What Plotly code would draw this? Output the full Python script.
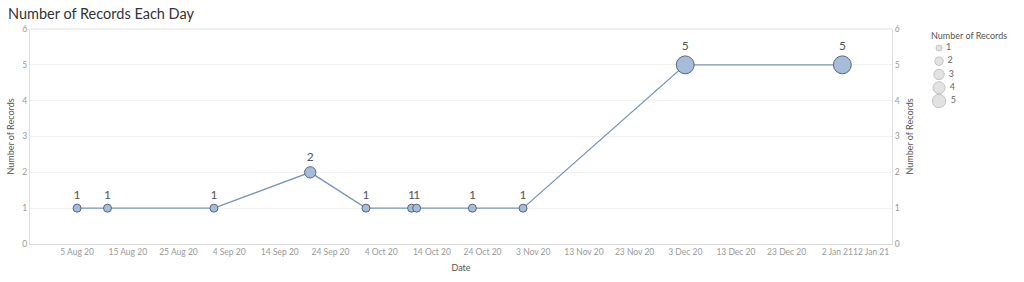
import plotly.graph_objects as go
import math

# ---- data ----
dates = ["2020-08-05", "2020-08-11", "2020-09-01", "2020-09-20", "2020-10-01",
         "2020-10-10", "2020-10-11", "2020-10-22", "2020-11-01", "2020-12-03", "2021-01-03"]
records = [1, 1, 1, 2, 1, 1, 1, 1, 1, 5, 5]

tick_dates = ["2020-08-05", "2020-08-15", "2020-08-25", "2020-09-04", "2020-09-14",
              "2020-09-24", "2020-10-04", "2020-10-14", "2020-10-24", "2020-11-03",
              "2020-11-13", "2020-11-23", "2020-12-03", "2020-12-13", "2020-12-23",
              "2021-01-02", "2021-01-12"]
tick_labels = ["5 Aug 20", "15 Aug 20", "25 Aug 20", "4 Sep 20", "14 Sep 20",
               "24 Sep 20", "4 Oct 20", "14 Oct 20", "24 Oct 20", "3 Nov 20",
               "13 Nov 20", "23 Nov 20", "3 Dec 20", "13 Dec 20", "23 Dec 20",
               "2 Jan 21", "12 Jan 21"]
y_ticks = [0, 1, 2, 3, 4, 5, 6]
legend_values = [1, 2, 3, 4, 5]

FONT = "Lato"
FILL = "#a7bcd8"
EDGE = "#56687e"
LINE = "#7895b8"

W, H = 1024, 282
ML, MR, MT, MB = 30, 4, 29, 38
PW = W - ML - MR
PH = H - MT - MB
main_right = 892
def xfrac(px):
    return (px - ML) / PW
def yfrac(px):
    return (H - MB - px) / PH

fig = go.Figure()

fig.add_trace(go.Scatter(
    x=dates, y=records, mode="lines+markers+text",
    line=dict(color=LINE, width=1.3),
    marker=dict(size=[8 * math.sqrt(v) for v in records], color=FILL,
                line=dict(color=EDGE, width=1), opacity=1),
    text=[str(v) for v in records], textposition="top center",
    textfont=dict(family=FONT, size=12, color="#555555"),
    cliponaxis=False, showlegend=False, hoverinfo="x+y",
))
# invisible trace to activate right axis
fig.add_trace(go.Scatter(
    x=dates, y=records, yaxis="y2", mode="markers",
    marker=dict(opacity=0), showlegend=False, hoverinfo="skip",
))
# size legend
fig.add_trace(go.Scatter(
    x=[0] * len(legend_values), y=legend_values, xaxis="x3", yaxis="y3",
    mode="markers+text",
    marker=dict(size=[6 * math.sqrt(v) for v in legend_values], color="#d6d6d6",
                line=dict(color="#ababab", width=1)),
    text=[" " + str(v) for v in legend_values], textposition="middle right",
    textfont=dict(family=FONT, size=9, color="#666666"),
    cliponaxis=False, showlegend=False, hoverinfo="skip",
))

axis_font = dict(family=FONT, size=8.5, color="#999999")
title_font = dict(family=FONT, size=9, color="#555555")

fig.update_layout(
    width=W, height=H,
    margin=dict(l=ML, r=MR, t=MT, b=MB),
    paper_bgcolor="white", plot_bgcolor="white",
    font=dict(family=FONT),
    xaxis=dict(
        domain=[0, xfrac(main_right)],
        type="date",
        range=["2020-07-26 17:00", "2021-01-12 19:00"],
        tickvals=tick_dates, ticktext=tick_labels[:-1] + [""],
        tickfont=axis_font, ticks="", showgrid=False, zeroline=False,
        showline=True, linecolor="#d9d9d9", linewidth=1, mirror=False,
        title=dict(text="Date", font=title_font, standoff=8),
    ),
    yaxis=dict(
        range=[0, 6], tickvals=y_ticks, tickfont=axis_font, ticks="",
        showgrid=True, gridcolor="#f0f0f0", gridwidth=1, zeroline=False,
        showline=True, linecolor="#e0e0e0", linewidth=1,
        title=dict(text="Number of Records", font=title_font, standoff=6),
    ),
    yaxis2=dict(
        overlaying="y", side="right", anchor="x",
        range=[0, 6], tickvals=y_ticks, tickfont=axis_font, ticks="",
        showgrid=False, zeroline=False,
        showline=True, linecolor="#e0e0e0", linewidth=1,
        title=dict(text="Number of Records", font=title_font, standoff=7),
    ),
    xaxis3=dict(domain=[xfrac(930), xfrac(1020)], anchor="y3",
                range=[-9, 81], visible=False, fixedrange=True),
    yaxis3=dict(domain=[yfrac(110), yfrac(29)], anchor="x3",
                range=[5.68, -0.43], visible=False, fixedrange=True),
)

# top border line of the chart area
fig.add_shape(type="line", xref="x domain", yref="y domain", x0=0, x1=1, y0=1, y1=1,
              line=dict(color="#e0e0e0", width=1))

# last x tick label kept inside the plot area (as Tableau does)
fig.add_annotation(x=tick_dates[-1], y=0, xref="x", yref="paper", yshift=-8, xshift=3,
                   text=tick_labels[-1], showarrow=False, xanchor="right", yanchor="middle",
                   font=axis_font)

fig.add_annotation(x=0, y=1, xref="paper", yref="paper", xanchor="left", yanchor="bottom",
                   text="Number of Records Each Day", showarrow=False,
                   xshift=-ML + 6, yshift=5, font=dict(family=FONT, size=14.5, color="#333333"))

fig.add_annotation(x=xfrac(929), y=yfrac(35), xref="paper", yref="paper",
                   xanchor="left", yanchor="middle", text="Number of Records", showarrow=False,
                   font=dict(family=FONT, size=9, color="#555555"))

fig.write_html("out.html")
